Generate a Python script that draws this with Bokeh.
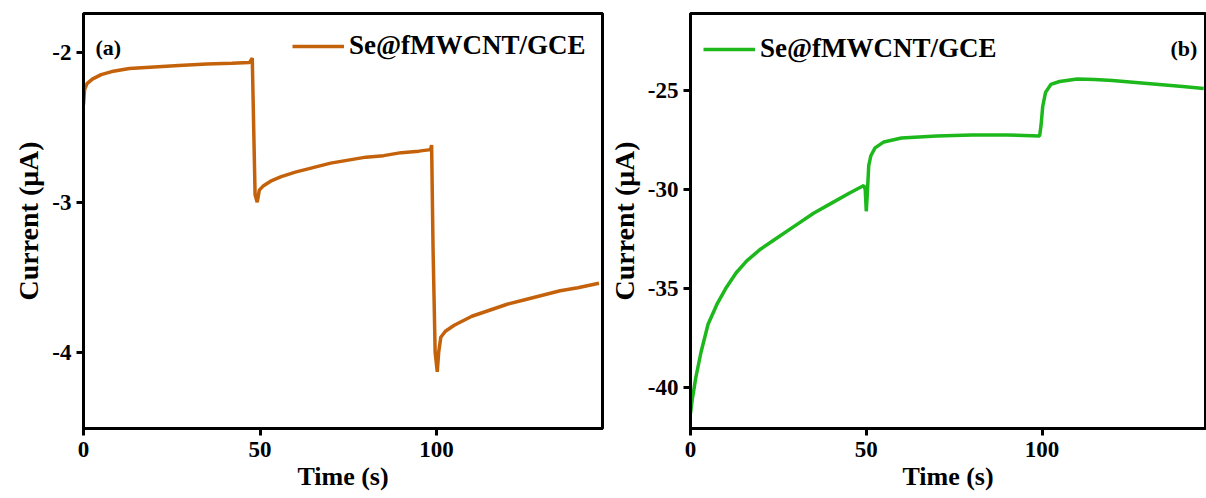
from bokeh.plotting import figure
from bokeh.layouts import row
from bokeh.models import FixedTicker, Label
from bokeh.embed import file_html
from bokeh.resources import INLINE

# ---- data (a) ----
t_a = [0, 0.3, 1, 2.5, 5, 8, 13, 20, 27, 35, 42, 47, 47.8, 48.2, 48.6, 49.2, 49.8,
       51, 53, 56, 60, 65, 70, 75, 80, 85, 90, 95, 98.3, 98.6, 99.0, 99.6, 100.2,
       100.6, 101.2, 102.5, 105, 110, 115, 120, 125, 130, 135, 140, 146]
i_a = [-2.35, -2.25, -2.21, -2.18, -2.15, -2.13, -2.11, -2.10, -2.09, -2.08, -2.075, -2.07, -2.04, -2.5, -2.95, -3.0, -2.92,
       -2.89, -2.86, -2.83, -2.80, -2.77, -2.74, -2.72, -2.70, -2.69, -2.67, -2.66, -2.65, -2.62, -3.3, -4.0, -4.13,
       -4.0, -3.9, -3.86, -3.82, -3.76, -3.72, -3.68, -3.65, -3.62, -3.59, -3.57, -3.54]

# ---- data (b) ----
t_b = [0, 0.5, 1.5, 3, 5, 7.5, 10, 13, 16, 20, 25, 30, 35, 40, 45, 49.3, 49.7, 50.0, 50.3,
       50.7, 51.3, 52.5, 55, 60, 70, 80, 90, 99.3, 99.7, 100.2, 101, 102.5, 105, 110, 115,
       120, 130, 140, 146]
i_b = [-41.3, -40.6, -39.5, -38.2, -36.8, -35.8, -35.0, -34.2, -33.6, -33.0, -32.4, -31.8, -31.2, -30.7, -30.2, -29.8, -30.0, -31.1, -30.2,
       -28.8, -28.3, -27.9, -27.6, -27.4, -27.3, -27.25, -27.25, -27.3, -26.8, -25.8, -25.1, -24.7, -24.55, -24.42, -24.45,
       -24.5, -24.65, -24.8, -24.9]

x_ticks = [0, 50, 100]
y_ticks_a = [-2, -3, -4]
y_ticks_b = [-25, -30, -35, -40]
series_label = "Se@fMWCNT/GCE"

FONT = "Liberation Serif"


def style(p, yt):
    p.outline_line_color = "black"
    p.outline_line_width = 3
    p.grid.visible = False
    p.background_fill_color = "white"
    p.border_fill_color = "white"
    p.xaxis.ticker = FixedTicker(ticks=x_ticks)
    p.yaxis.ticker = FixedTicker(ticks=yt)
    p.yaxis.major_label_overrides = {v: "-%d" % abs(v) for v in yt}
    for ax in (p.xaxis, p.yaxis):
        ax.axis_line_width = 3
        ax.axis_line_color = "black"
        ax.major_tick_line_width = 3
        ax.major_tick_in = 0
        ax.major_tick_out = 7
        ax.minor_tick_line_color = None
        ax.major_label_text_font = FONT
        ax.major_label_text_font_style = "bold"
        ax.major_label_text_font_size = "23px"
        ax.major_label_text_color = "black"
        ax.axis_label_text_font = FONT
        ax.axis_label_text_font_style = "bold"
        ax.axis_label_text_color = "black"
    p.xaxis.axis_label_text_font_size = "26px"
    p.yaxis.axis_label_text_font_size = "28px"
    p.xaxis.major_label_standoff = 6
    p.yaxis.major_label_standoff = 5
    p.xaxis.axis_label_standoff = 2
    p.yaxis.axis_label_standoff = 5


p1 = figure(width=604, height=498, x_range=(0, 147), y_range=(-4.508, -1.743),
            output_backend="svg", toolbar_location=None,
            min_border_left=83, min_border_right=2, min_border_top=13, min_border_bottom=66)
p1.line(t_a, i_a, line_color="#c4620c", line_width=3.5, legend_label=series_label)
style(p1, y_ticks_a)
p1.xaxis.axis_label = "Time (s)"
p1.yaxis.axis_label = "Current (μA)"
p1.add_layout(Label(x=3.4, y=-1.97, text="(a)", text_font=FONT, text_font_style="bold",
                    text_font_size="22px", text_baseline="middle", text_color="black"))

p2 = figure(width=602, height=498, x_range=(0, 146.5), y_range=(-42.06, -21.12),
            output_backend="svg", toolbar_location=None,
            min_border_left=86, min_border_right=1, min_border_top=12, min_border_bottom=70)
p2.line(t_b, i_b, line_color="#1cb81c", line_width=3.5, legend_label=series_label)
style(p2, y_ticks_b)
p2.xaxis.axis_label = "Time (s)"
p2.yaxis.axis_label = "Current (μA)"
p2.add_layout(Label(x=144.2, y=-22.9, text="(b)", text_font=FONT, text_font_style="bold",
                    text_font_size="22px", text_baseline="middle", text_align="right",
                    text_color="black"))

for p, loc in ((p1, (209, 367)), (p2, (13, 364))):
    lg = p.legend[0]
    lg.location = loc
    lg.border_line_color = None
    lg.background_fill_alpha = 0
    lg.padding = 0
    lg.margin = 0
    lg.glyph_width = 52
    lg.glyph_height = 30
    lg.label_height = 30
    lg.label_standoff = 5
    lg.label_text_font = FONT
    lg.label_text_font_style = "bold"
    lg.label_text_font_size = "27px"
    lg.label_text_color = "black"

layout = row(p1, p2)
open("out.html", "w").write(file_html(layout, INLINE))
